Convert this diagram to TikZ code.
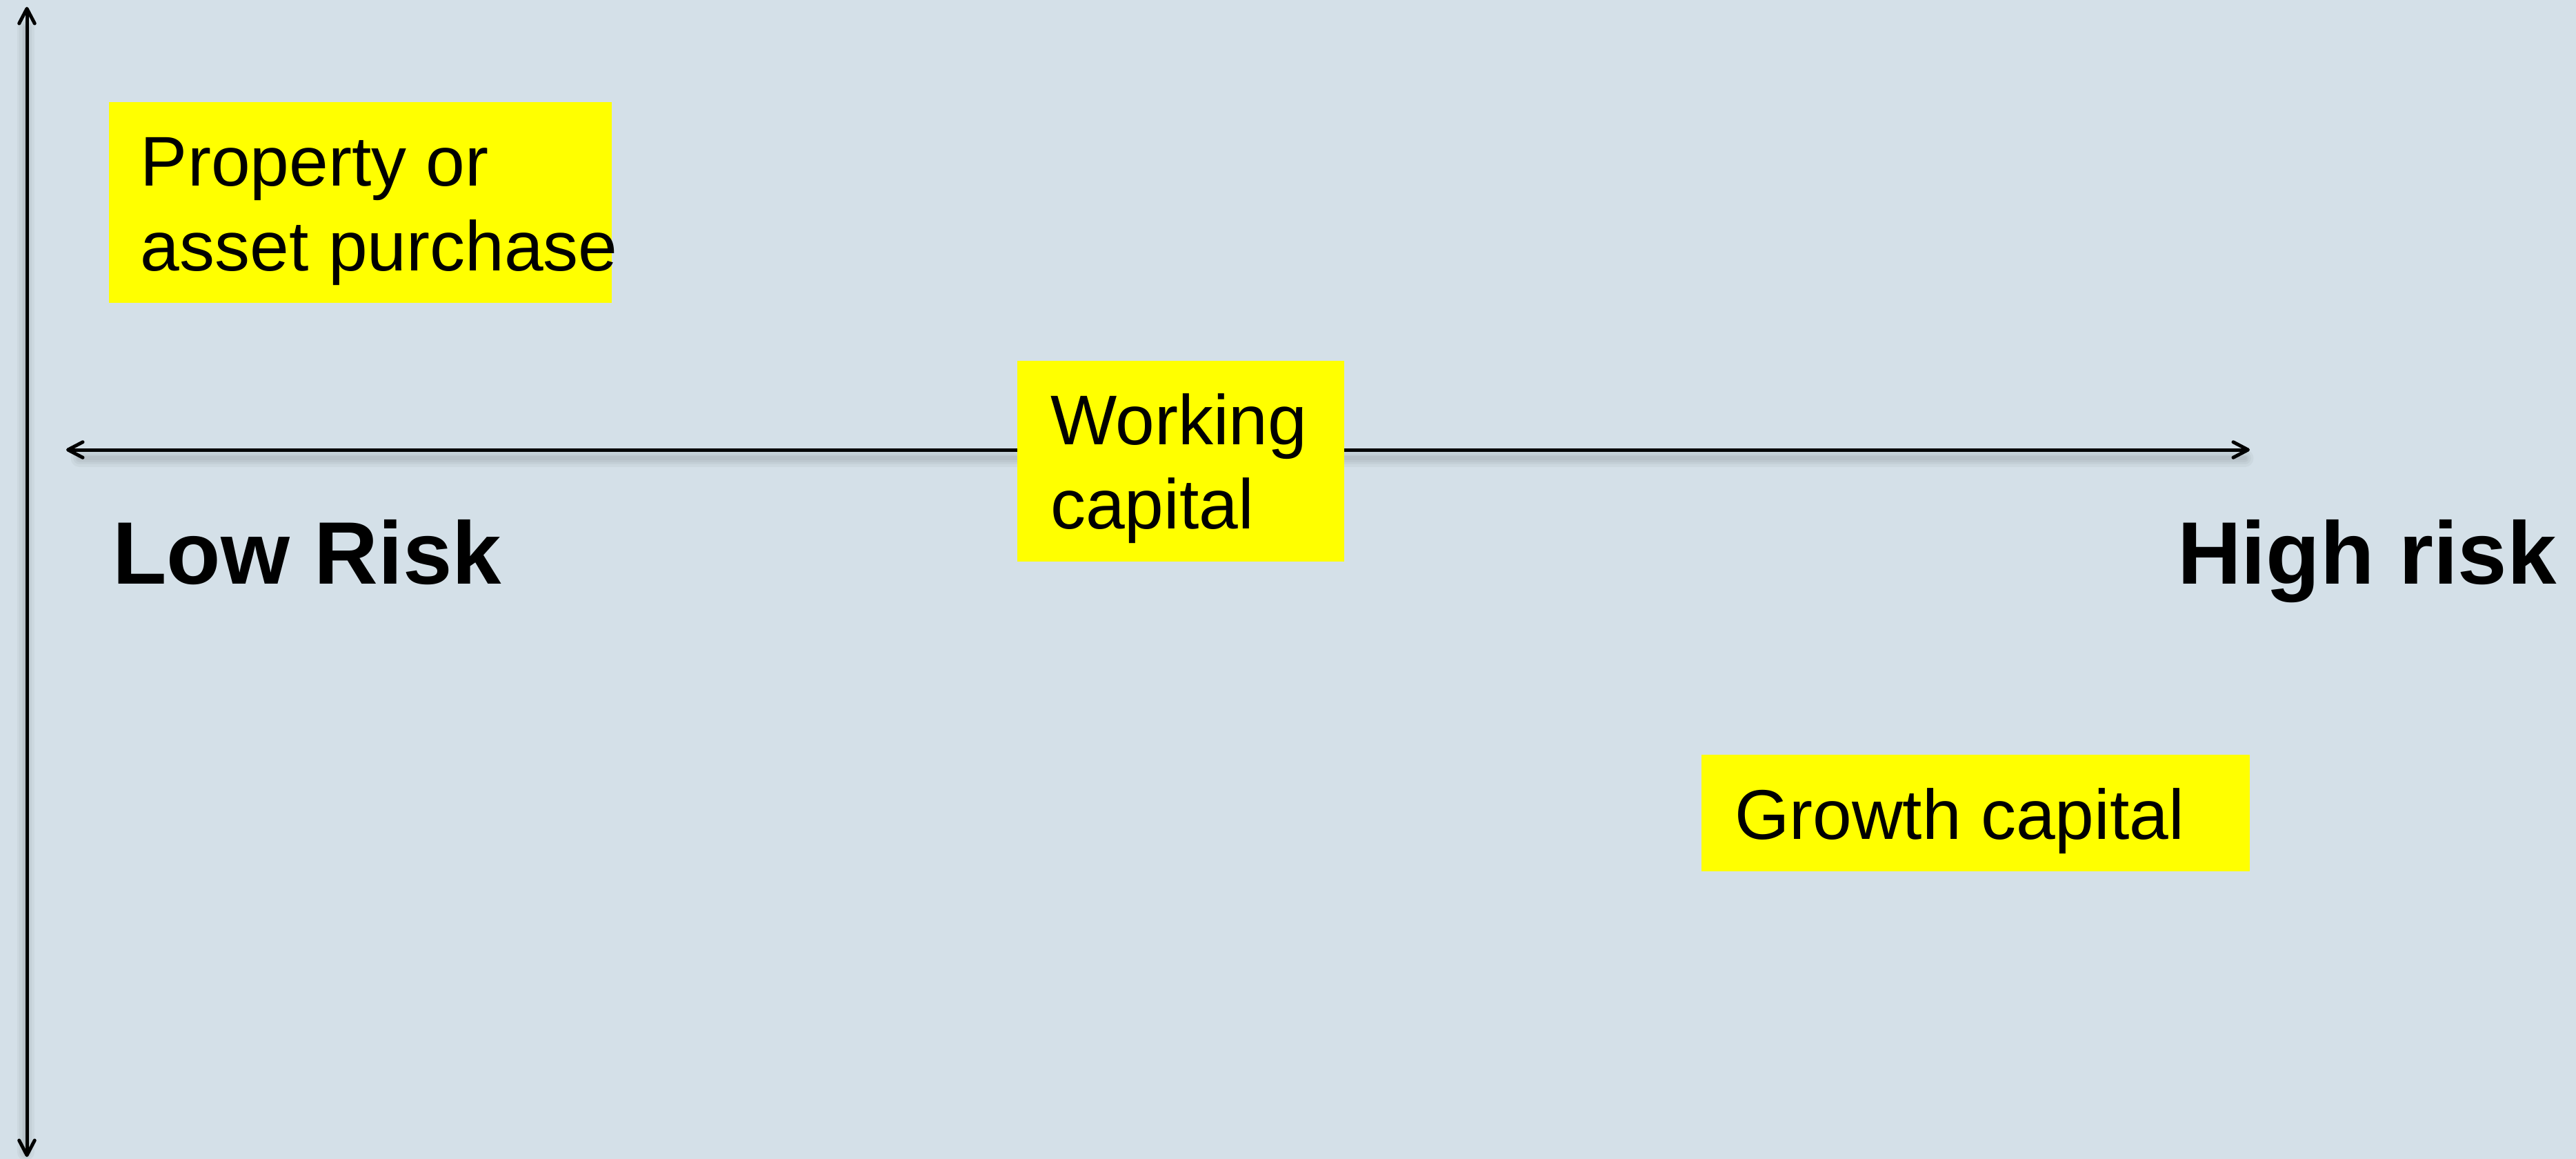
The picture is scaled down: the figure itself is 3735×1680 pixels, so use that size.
\documentclass[tikz,border=0pt]{standalone}
\usepackage{fontspec}
\setmainfont{Liberation Sans}
\usetikzlibrary{arrows.meta}
\definecolor{bgc}{RGB}{212,224,232}
\definecolor{ylw}{RGB}{255,255,0}
\begin{document}
\begin{tikzpicture}[x=0.2pt,y=-0.2pt,
  ybox/.style={fill=ylw, draw=none, inner sep=0pt, outer sep=0pt},
  reg/.style={inner sep=0pt, anchor=base west, font=\fontsize{20.4}{24.4}\selectfont},
  bld/.style={inner sep=0pt, anchor=base west, font=\fontsize{25.7}{30}\selectfont\bfseries},
  tipb/.tip={Straight Barb[length=4.3pt,width=4.5pt,line cap=round,line join=round]},
  axis/.style={line width=1pt, line cap=round, line join=round, tipb-tipb},
  shad/.style={draw=black, opacity=0.035}
]
\useasboundingbox (0,0) rectangle (3735,1680);
\fill[bgc] (0,0) rectangle (3735,1680);
% axis end points
\coordinate (vt) at (39,10);
\coordinate (vb) at (39,1677);
\coordinate (hl) at (96,652);
\coordinate (hr) at (3262,652);
\coordinate (hls) at (115,664);
\coordinate (hrs) at (3255,664);
\coordinate (vts) at (37,40);
\coordinate (vbs) at (37,1670);
% soft shadows
\foreach \w in {5pt,3.5pt,2.2pt,1.2pt}{
  \draw[shad, line width=\w, line cap=round] (hls) -- (hrs);
  \draw[shad, line width=\w, line cap=round] (vts) -- (vbs);
}
% axes
\draw[axis] (hl) -- (hr);
\draw[axis] (vt) -- (vb);
% boxes
\node[ybox, minimum width=145.6pt, minimum height=58.2pt] (propbox) at (522.5,293.5) {};
\node[ybox, minimum width=94.8pt, minimum height=58.2pt] (workbox) at (1712,668.5) {};
\node[ybox, minimum width=159pt, minimum height=33.8pt] (growbox) at (2864.5,1178.5) {};
% texts
\node[reg] (prop1) at (203,269) {Property or};
\node[reg] (prop2) at (203,392) {asset purchase};
\node[reg] (work1) at (1522,644) {Working};
\node[reg] (work2) at (1522,766) {capital};
\node[reg] (grow) at (2514,1216) {Growth capital};
\node[bld] (low) at (162,846) {Low Risk};
\node[bld] (high) at (3156,846) {High risk};
\end{tikzpicture}
\end{document}
